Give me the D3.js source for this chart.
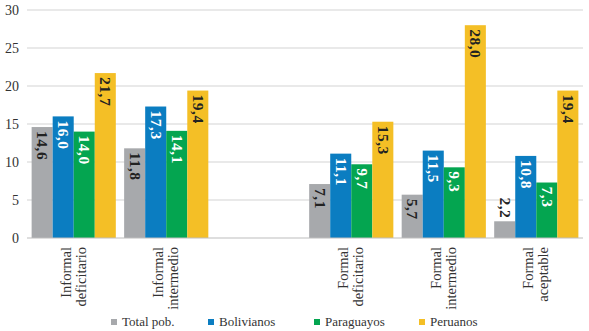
<!DOCTYPE html>
<html>
<head>
<meta charset="utf-8">
<script src="https://cdn.jsdelivr.net/npm/d3@7"></script>
<style>
  body { margin: 0; background: #fff; }
</style>
</head>
<body>
<svg id="chart"></svg>
<script>
var categories = ["Informal|deficitario", "Informal|intermedio", "", "Formal|deficitario", "Formal|intermedio", "Formal|aceptable"];
var seriesNames = ["Total pob.", "Bolivianos", "Paraguayos", "Peruanos"];
var seriesColors = ["#a7a9ac", "#0b7dc1", "#04a550", "#f4bf26"];
var labelColors = ["#222", "#fff", "#fff", "#222"];
var totalPob   = [14.6, 11.8, null, 7.1, 5.7, 2.2];
var bolivianos = [16.0, 17.3, null, 11.1, 11.5, 10.8];
var paraguayos = [14.0, 14.1, null, 9.7, 9.3, 7.3];
var peruanos   = [21.7, 19.4, null, 15.3, 28.0, 19.4];
var yTicks = [0, 5, 10, 15, 20, 25, 30];

var series = [totalPob, bolivianos, paraguayos, peruanos];

var width = 589, height = 331;
var svg = d3.select('#chart')
	.attr('width', width)
	.attr('height', height)
	.attr('font-family', '"Liberation Serif", "DejaVu Serif", serif');

var x = d3.scaleBand()
	.domain(categories)
	.range([27, 583])
	.paddingInner(0.09)
	.paddingOuter(0.05);

var xs = d3.scaleBand()
	.domain(d3.range(seriesNames.length))
	.range([0, x.bandwidth()]);

var y = d3.scaleLinear()
	.domain([0, 30])
	.range([238, 10]);

// gridlines
svg.append('g')
	.selectAll('line')
	.data(yTicks.slice(1))
	.join('line')
	.attr('x1', 27).attr('x2', 583)
	.attr('y1', function(d){ return y(d); })
	.attr('y2', function(d){ return y(d); })
	.attr('stroke', '#d4d4d4')
	.attr('stroke-width', 1.2);

// y labels
svg.append('g')
	.selectAll('text')
	.data(yTicks)
	.join('text')
	.attr('x', 19)
	.attr('y', function(d){ return y(d) + 4.5; })
	.attr('text-anchor', 'end')
	.attr('font-size', 14)
	.attr('fill', '#333')
	.text(function(d){ return d; });

// bars
var bars = [];
categories.forEach(function(c, ci){
	series.forEach(function(s, si){
		if (s[ci] != null) bars.push({cat: c, si: si, v: s[ci]});
	});
});

svg.append('g')
	.selectAll('rect')
	.data(bars)
	.join('rect')
	.attr('x', function(d){ return x(d.cat) + xs(d.si); })
	.attr('y', function(d){ return y(d.v); })
	.attr('width', xs.bandwidth())
	.attr('height', function(d){ return y(0) - y(d.v); })
	.attr('fill', function(d){ return seriesColors[d.si]; });

// bar value labels, rotated
svg.append('g')
	.selectAll('text')
	.data(bars)
	.join('text')
	.attr('transform', function(d){
		var cx = x(d.cat) + xs(d.si) + xs.bandwidth()/2 - 5;
		var inside = (y(0) - y(d.v)) > 30;
		var ty = inside ? y(d.v) + 4 : y(d.v) - 3;
		return 'translate(' + cx + ',' + ty + ') rotate(90)';
	})
	.attr('text-anchor', function(d){ return (y(0) - y(d.v)) > 30 ? 'start' : 'end'; })
	.attr('font-size', 15.5)
	.attr('font-weight', 'bold')
	.attr('letter-spacing', 0.5)
	.attr('fill', function(d){ return labelColors[d.si]; })
	.text(function(d){ return d3.format('.1f')(d.v).replace('.', ','); });

// axis line
svg.append('line')
	.attr('x1', 27).attr('x2', 583)
	.attr('y1', y(0)).attr('y2', y(0))
	.attr('stroke', '#bdbdbd')
	.attr('stroke-width', 1.2);

// category labels
var catG = svg.append('g')
	.selectAll('g')
	.data(categories.filter(function(c){ return c !== ''; }))
	.join('g')
	.attr('transform', function(d){
		return 'translate(' + (x(d) + x.bandwidth()/2) + ',247) rotate(-90)';
	});

catG.selectAll('text')
	.data(function(d){ return d.split('|'); })
	.join('text')
	.attr('x', 0)
	.attr('y', function(d, i){ return -3 + i*15; })
	.attr('text-anchor', 'end')
	.attr('font-size', 14.5)
	.attr('fill', '#333')
	.text(function(d){ return d; });

// legend
var legendX = [111, 208, 314, 419];
var leg = svg.append('g')
	.selectAll('g')
	.data(seriesNames)
	.join('g')
	.attr('transform', function(d, i){ return 'translate(' + legendX[i] + ',322)'; });

leg.append('rect')
	.attr('x', 0).attr('y', -3)
	.attr('width', 6).attr('height', 6)
	.attr('fill', function(d, i){ return seriesColors[i]; });

leg.append('text')
	.attr('x', 11)
	.attr('y', 4)
	.attr('font-size', 13)
	.attr('fill', '#333')
	.text(function(d){ return d; });
</script>
</body>
</html>
